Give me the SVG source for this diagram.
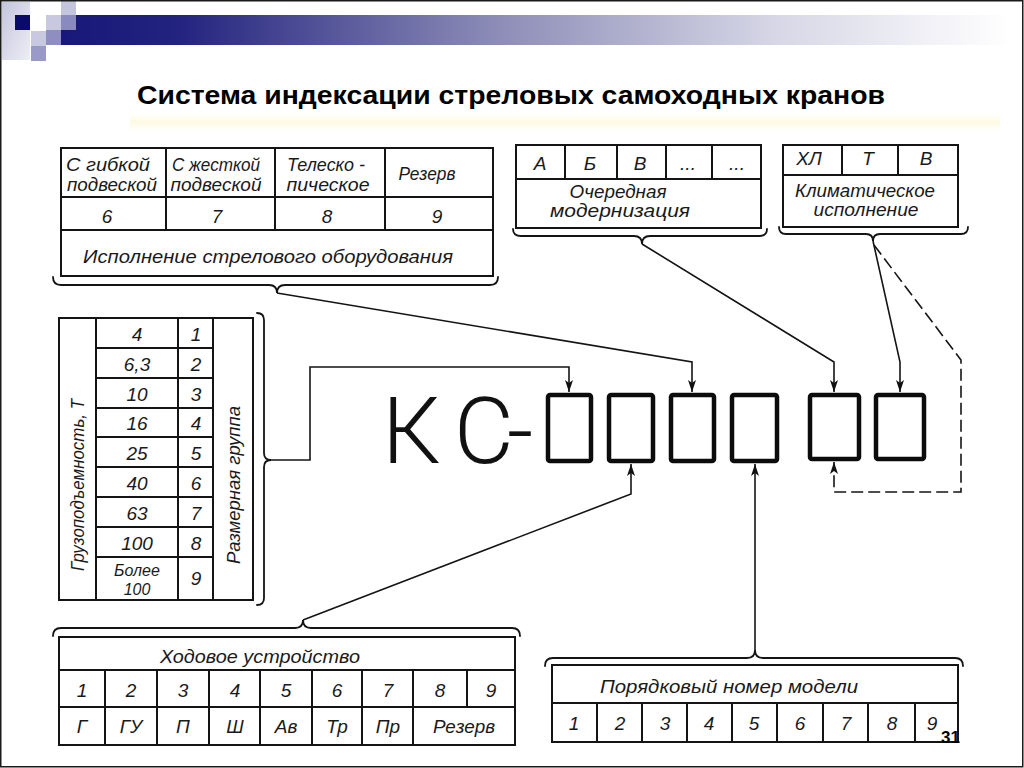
<svg xmlns="http://www.w3.org/2000/svg" width="1024" height="768" viewBox="0 0 1024 768">
<defs>
<linearGradient id="band" x1="0" y1="0" x2="1" y2="0">
<stop offset="0" stop-color="#18187a"/>
<stop offset="0.12" stop-color="#22227f"/>
<stop offset="0.45" stop-color="#8a8ab6"/>
<stop offset="0.75" stop-color="#d6d6e6"/>
<stop offset="1" stop-color="#ffffff"/>
</linearGradient>
<linearGradient id="pale" x1="0" y1="0" x2="1" y2="1">
<stop offset="0" stop-color="#c4c4dc"/>
<stop offset="1" stop-color="#eeeef6"/>
</linearGradient>
<linearGradient id="scan" x1="0" y1="0" x2="0" y2="1">
<stop offset="0" stop-color="#fffbe0" stop-opacity="0"/>
<stop offset="0.5" stop-color="#fbf6cc" stop-opacity="0.6"/>
<stop offset="1" stop-color="#fffbe0" stop-opacity="0"/>
</linearGradient>
<marker id="arr" markerUnits="userSpaceOnUse" markerWidth="12" markerHeight="8" refX="12" refY="4" orient="auto">
<path d="M0,0 L12,4 L0,8 L3,4 z" fill="#111"/>
</marker>
</defs>
<style>
.ln{fill:none;stroke:#141414;stroke-width:2}
.br{fill:none;stroke:#141414;stroke-width:1.8;stroke-linecap:round}
.cn{fill:none;stroke:#141414;stroke-width:1.6}
.dash{stroke-dasharray:12 5}
.bx{fill:#fff;stroke:#0c0c0c;stroke-width:4.5}
.t{font-family:"Liberation Sans","DejaVu Sans",sans-serif;font-style:italic;font-size:19px;fill:#1a1a1a;text-anchor:middle}
.s{font-size:16px}
.ttl{font-family:"Liberation Sans","Arial",sans-serif;font-weight:bold;font-size:26px;fill:#000}
</style>
<rect width="1024" height="768" fill="#fff"/>
<rect x="130" y="112" width="870" height="20" fill="url(#scan)"/>
<g id="decor">
<rect x="61" y="15" width="950" height="30" fill="url(#band)"/>
<rect x="2" y="2" width="28" height="58" fill="url(#pale)"/>
<rect x="15" y="15" width="15" height="15" fill="#0a0a6c"/>
<rect x="31" y="31" width="15" height="15" fill="#c8c8e0"/>
<rect x="31" y="46" width="15" height="15" fill="#9a9ac8"/>
<rect x="46" y="15" width="15" height="15" fill="#c8c8e0"/>
<rect x="46" y="30" width="15" height="15" fill="#8e8ec0"/>
<rect x="61" y="0" width="15" height="15" fill="#c4c4dc"/>
<rect x="61" y="15" width="15" height="15" fill="#8a8abe"/>
</g>
<rect x="0.75" y="0.75" width="1022" height="766" fill="none" stroke="#1a1a1a" stroke-width="1.5"/>
<text class="ttl" x="137" y="104" textLength="748" lengthAdjust="spacingAndGlyphs">Система индексации стреловых самоходных кранов</text>

<g id="boom-table">
<rect class="ln" x="61" y="148" width="432" height="128"/>
<path class="ln" d="M61,197 H493 M61,230 H493 M166,148 V230 M275,148 V230 M385,148 V230"/>
<text class="t" x="108" y="171" textLength="84" lengthAdjust="spacingAndGlyphs">С гибкой</text>
<text class="t" x="112" y="191" textLength="90" lengthAdjust="spacingAndGlyphs">подвеской</text>
<text class="t" x="216" y="171" textLength="88" lengthAdjust="spacingAndGlyphs">С жесткой</text>
<text class="t" x="216" y="191" textLength="91" lengthAdjust="spacingAndGlyphs">подвеской</text>
<text class="t" x="326" y="171" textLength="78" lengthAdjust="spacingAndGlyphs">Телеско -</text>
<text class="t" x="328" y="191" textLength="83" lengthAdjust="spacingAndGlyphs">пическое</text>
<text class="t" x="427" y="180" textLength="57" lengthAdjust="spacingAndGlyphs">Резерв</text>
<text class="t" x="107" y="223">6</text>
<text class="t" x="217" y="223">7</text>
<text class="t" x="327" y="223">8</text>
<text class="t" x="437" y="223">9</text>
<text class="t" x="268" y="263" textLength="370" lengthAdjust="spacingAndGlyphs">Исполнение   стрелового   оборудования</text>
<path class="br" d="M53,277 Q53,285 61,285 L269,285 Q277,285 277,293 Q277,285 285,285 L490,285 Q498,285 498,277"/>
</g>

<g id="modernization-table">
<rect class="ln" x="516" y="145" width="245" height="83"/>
<path class="ln" d="M516,179 H761 M565,145 V179 M617,145 V179 M666,145 V179 M712,145 V179"/>
<text class="t" x="540" y="170">А</text>
<text class="t" x="590" y="170">Б</text>
<text class="t" x="640" y="170">В</text>
<text class="t" x="688" y="170" font-size="13">...</text>
<text class="t" x="737" y="170" font-size="13">...</text>
<text class="t" x="618" y="198" textLength="97" lengthAdjust="spacingAndGlyphs">Очередная</text>
<text class="t" x="620" y="217" textLength="140" lengthAdjust="spacingAndGlyphs">модернизация</text>
<path class="br" d="M513,229 Q513,236 521,236 L634,236 Q642,236 642,244 Q642,236 650,236 L759,236 Q767,236 767,229"/>
</g>

<g id="climate-table">
<rect class="ln" x="783" y="145" width="175" height="82"/>
<path class="ln" d="M783,175 H958 M842,145 V175 M898,145 V175"/>
<text class="t" x="809" y="165">ХЛ</text>
<text class="t" x="868" y="165">Т</text>
<text class="t" x="926" y="165">В</text>
<text class="t" x="865" y="197" textLength="140" lengthAdjust="spacingAndGlyphs">Климатическое</text>
<text class="t" x="866" y="216" textLength="105" lengthAdjust="spacingAndGlyphs">исполнение</text>
<path class="br" d="M779,227 Q779,234 786,234 L866,234 Q873,234 873,241 Q873,234 880,234 L961,234 Q968,234 968,227"/>
</g>

<g id="size-group-table">
<rect class="ln" x="59" y="318" width="194" height="282"/>
<path class="ln" d="M96,318 V600 M178,318 V600 M213,318 V600 M96,348 H213 M96,378 H213 M96,408 H213 M96,437 H213 M96,467 H213 M96,497 H213 M96,527 H213 M96,557 H213"/>
<text class="t" x="137" y="341">4</text>
<text class="t" x="137" y="371">6,3</text>
<text class="t" x="137" y="401">10</text>
<text class="t" x="137" y="430">16</text>
<text class="t" x="137" y="460">25</text>
<text class="t" x="137" y="490">40</text>
<text class="t" x="137" y="520">63</text>
<text class="t" x="137" y="550">100</text>
<text class="t s" x="137" y="576">Более</text>
<text class="t s" x="137" y="595">100</text>
<text class="t" x="196" y="341">1</text>
<text class="t" x="196" y="371">2</text>
<text class="t" x="196" y="401">3</text>
<text class="t" x="196" y="430">4</text>
<text class="t" x="196" y="460">5</text>
<text class="t" x="196" y="490">6</text>
<text class="t" x="196" y="520">7</text>
<text class="t" x="196" y="550">8</text>
<text class="t" x="196" y="585">9</text>
<text class="t" transform="translate(84,485) rotate(-90)" textLength="172" lengthAdjust="spacingAndGlyphs">Грузоподъемность, Т</text>
<text class="t" transform="translate(240,485) rotate(-90)" textLength="158" lengthAdjust="spacingAndGlyphs">Размерная  группа</text>
<path class="br" d="M257,313 Q264,313 264,320 L264,453 Q264,460 271,460 Q264,460 264,467 L264,598 Q264,605 257,605"/>
</g>

<g id="running-gear-table">
<rect class="ln" x="59" y="637" width="456" height="108"/>
<path class="ln" d="M59,670 H515 M59,707 H515 M105,670 V745 M157,670 V745 M209,670 V745 M260,670 V745 M312,670 V745 M362,670 V745 M413,670 V745 M467,670 V707"/>
<text class="t" x="260" y="663" textLength="200" lengthAdjust="spacingAndGlyphs">Ходовое   устройство</text>
<text class="t" x="82" y="697">1</text>
<text class="t" x="131" y="697">2</text>
<text class="t" x="183" y="697">3</text>
<text class="t" x="235" y="697">4</text>
<text class="t" x="286" y="697">5</text>
<text class="t" x="337" y="697">6</text>
<text class="t" x="388" y="697">7</text>
<text class="t" x="440" y="697">8</text>
<text class="t" x="491" y="697">9</text>
<text class="t" x="82" y="733">Г</text>
<text class="t" x="131" y="733">ГУ</text>
<text class="t" x="183" y="733">П</text>
<text class="t" x="235" y="733">Ш</text>
<text class="t" x="286" y="733">Ав</text>
<text class="t" x="337" y="733">Тр</text>
<text class="t" x="388" y="733">Пр</text>
<text class="t" x="464" y="733" textLength="62" lengthAdjust="spacingAndGlyphs">Резерв</text>
<path class="br" d="M53,636 Q53,628 61,628 L295,628 Q303,628 303,620 Q303,628 311,628 L512,628 Q520,628 520,636"/>
</g>

<g id="model-number-table">
<rect class="ln" x="552" y="665" width="406" height="77"/>
<path class="ln" d="M552,703 H958 M597,703 V742 M642,703 V742 M687,703 V742 M732,703 V742 M777,703 V742 M823,703 V742 M868,703 V742 M915,703 V742"/>
<text class="t" x="729" y="693" textLength="258" lengthAdjust="spacingAndGlyphs">Порядковый   номер   модели</text>
<text class="t" x="574" y="730">1</text>
<text class="t" x="620" y="730">2</text>
<text class="t" x="665" y="730">3</text>
<text class="t" x="709" y="730">4</text>
<text class="t" x="754" y="730">5</text>
<text class="t" x="800" y="730">6</text>
<text class="t" x="846" y="730">7</text>
<text class="t" x="892" y="730">8</text>
<text class="t" x="932" y="730">9</text>
<path class="br" d="M545,666 Q545,658 553,658 L747,658 Q755,658 755,650 Q755,658 763,658 L955,658 Q963,658 963,666"/>
</g>

<g id="index">
<text x="382 454 507" y="463" font-family="Roboto,'Liberation Sans',sans-serif" font-weight="300" font-size="92" fill="#111">КС-</text>
<rect class="bx" x="548" y="395" width="43" height="66" rx="2"/>
<rect class="bx" x="609" y="395" width="44" height="66" rx="2"/>
<rect class="bx" x="671" y="395" width="43" height="66" rx="2"/>
<rect class="bx" x="732" y="395" width="45" height="66" rx="2"/>
<rect class="bx" x="810" y="395" width="49" height="64" rx="2"/>
<rect class="bx" x="876" y="395" width="48" height="64" rx="2"/>
</g>

<g id="connectors">
<path class="cn" d="M271,460 H310 V367 H569 V392" marker-end="url(#arr)"/>
<path class="cn" d="M277,293 L692,362 V392" marker-end="url(#arr)"/>
<path class="cn" d="M642,244 L834,362 V392" marker-end="url(#arr)"/>
<path class="cn" d="M873,241 L900,362 V392" marker-end="url(#arr)"/>
<path class="cn dash" d="M874,245 L961,360 V492 H834 V462" marker-end="url(#arr)"/>
<path class="cn" d="M303,620 L631,494 V464" marker-end="url(#arr)"/>
<path class="cn" d="M755,650 V464" marker-end="url(#arr)"/>
</g>
<text x="941" y="743" font-family="'Liberation Sans',Arial,sans-serif" font-weight="bold" font-size="17" fill="#000">31</text>
</svg>
